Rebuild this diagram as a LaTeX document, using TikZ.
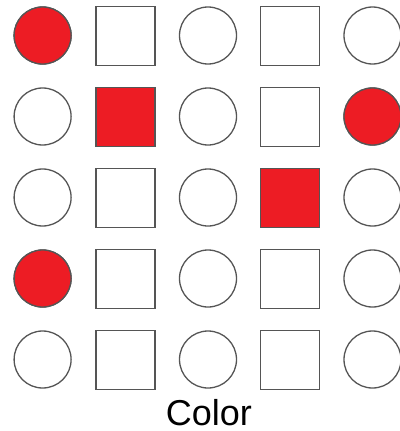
\documentclass[tikz,border=0pt]{standalone}
\usepackage{fontspec}
\setmainfont{Liberation Sans}
\definecolor{redfill}{HTML}{ED1C24}
\definecolor{edge}{HTML}{555555}
\begin{document}
\begin{tikzpicture}[x=1pt,y=-1pt,
  circ/.style={circle,draw=edge,line width=1.3pt,minimum size=57pt,inner sep=0pt,fill=white},
  sq/.style={rectangle,draw=edge,line width=1.3pt,minimum size=59pt,inner sep=0pt,fill=white},
  red/.style={fill=redfill}]
\useasboundingbox (0,0) rectangle (399,431);
\foreach \r [count=\i] in {35.5,116.5,197.5,278.5,359.5}{
  \node[circ] (c1-\i) at (42.6,\r) {};
  \node[sq] (s2-\i) at (125.5,\r+0.5) {};
  \node[circ] (c3-\i) at (208,\r) {};
  \node[sq] (s4-\i) at (290,\r+0.5) {};
  \node[circ] (c5-\i) at (372.5,\r) {};
}
\node[circ,red] at (c1-1) {};
\node[sq,red] at (s2-2) {};
\node[circ,red] at (c5-2) {};
\node[sq,red] at (s4-3) {};
\node[circ,red] at (c1-4) {};
\node[font=\fontsize{36}{40}\selectfont,anchor=base,inner sep=0pt] (label) at (208.8,425.7) {Color};
\end{tikzpicture}
\end{document}
